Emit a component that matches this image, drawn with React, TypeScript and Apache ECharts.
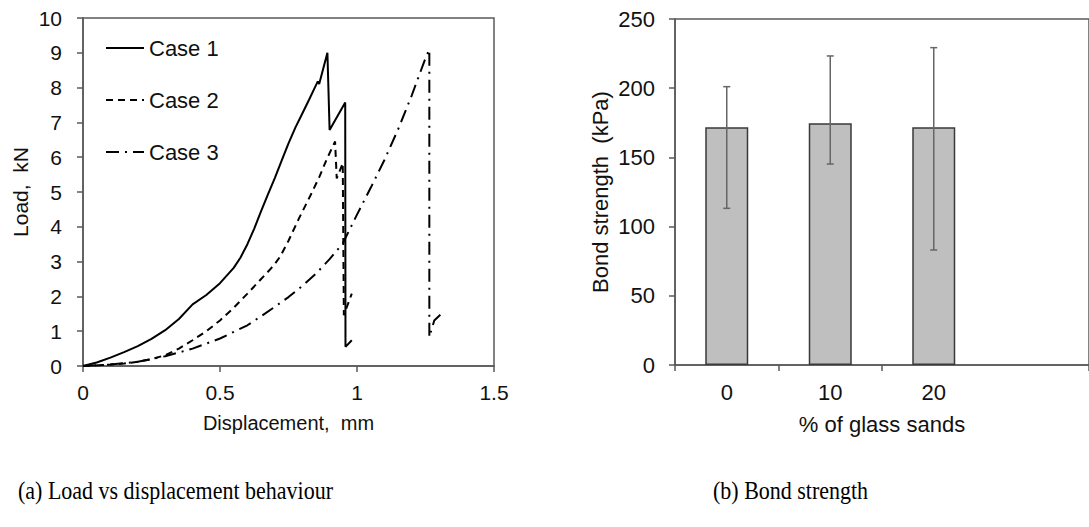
import React, { useEffect, useRef } from "react";
import * as echarts from "echarts";

// ---------- Panel (a): load vs displacement ----------
const case1X = [0, 0.05, 0.1, 0.15, 0.2, 0.25, 0.3, 0.35, 0.4, 0.45, 0.5, 0.55, 0.575, 0.6, 0.625, 0.65, 0.675, 0.7, 0.725, 0.75, 0.775, 0.8, 0.825, 0.846, 0.857, 0.862, 0.892, 0.9, 0.957, 0.958, 0.981];
const case1Y = [0, 0.1, 0.24, 0.4, 0.57, 0.78, 1.03, 1.35, 1.77, 2.04, 2.38, 2.82, 3.12, 3.5, 3.95, 4.45, 4.93, 5.4, 5.9, 6.4, 6.85, 7.25, 7.65, 8.0, 8.18, 8.1, 9.0, 6.78, 7.57, 0.55, 0.74];

const case2X = [0, 0.1, 0.15, 0.2, 0.25, 0.3, 0.35, 0.4, 0.45, 0.5, 0.55, 0.6, 0.65, 0.68, 0.7, 0.72, 0.75, 0.79, 0.83, 0.863, 0.89, 0.92, 0.926, 0.948, 0.952, 0.981];
const case2Y = [0, 0.04, 0.07, 0.12, 0.2, 0.31, 0.5, 0.74, 1.0, 1.31, 1.67, 2.08, 2.5, 2.75, 2.93, 3.15, 3.6, 4.27, 4.9, 5.44, 5.95, 6.45, 5.39, 5.83, 1.46, 2.08];

const case3X = [0, 0.1, 0.2, 0.3, 0.4, 0.5, 0.6, 0.65, 0.7, 0.75, 0.8, 0.85, 0.9, 0.948, 0.96, 1.0, 1.05, 1.1, 1.15, 1.2, 1.252, 1.264, 1.264, 1.282, 1.312];
const case3Y = [0, 0.04, 0.12, 0.28, 0.5, 0.79, 1.17, 1.43, 1.7, 1.98, 2.3, 2.65, 3.07, 3.52, 3.71, 4.35, 5.12, 5.92, 6.8, 7.78, 8.89, 9.09, 0.83, 1.31, 1.53];

const seriesNames = ["Case 1", "Case 2", "Case 3"];

// ---------- Panel (b): bond strength ----------
const glassCategories = ["0", "10", "20", ""];
const bondMean = [171.7, 174.6, 171.7];
const bondLow = [113.2, 145.2, 83.1];
const bondHigh = [201.1, 223.3, 229.3];

const captions = ["(a) Load vs displacement behaviour", "(b) Bond strength"];

const FONT = "'Liberation Sans', Arial, sans-serif";
const SERIF = "'Liberation Serif', 'Times New Roman', serif";
const AXIS_COLOR = "#595959";
const TEXT_COLOR = "#111";

const pairs = (xs: number[], ys: number[]) => xs.map((x, i) => [x, ys[i]]);

export default function App() {
  const ref = useRef<HTMLDivElement>(null);

  useEffect(() => {
    if (!ref.current) return;
    const chart = echarts.init(ref.current, null, { renderer: "svg" });

    const lineStyleBase = { color: "#000", width: 2 };

    const option: any = {
      animation: false,
      backgroundColor: "#fff",
      textStyle: { fontFamily: FONT, color: TEXT_COLOR },
      grid: [
        { left: 83, top: 18, width: 411, height: 348, show: true, borderColor: AXIS_COLOR, borderWidth: 1.5, backgroundColor: "transparent" },
        { left: 675, top: 19, width: 544, height: 346, show: true, borderColor: AXIS_COLOR, borderWidth: 1.5, backgroundColor: "transparent" },
      ],
      legend: {
        data: seriesNames,
        orient: "vertical",
        left: 105,
        top: 37,
        padding: 0,
        itemWidth: 38,
        itemHeight: 22,
        itemGap: 30,
        itemStyle: { color: "rgba(0,0,0,0)", borderColor: "rgba(0,0,0,0)", borderWidth: 0, opacity: 0 },
        textStyle: { fontFamily: FONT, fontSize: 22, color: TEXT_COLOR, lineHeight: 22 },
      },
      xAxis: [
        {
          gridIndex: 0,
          type: "value",
          min: 0,
          max: 1.5,
          interval: 0.5,
          name: "Displacement,  mm",
          nameLocation: "middle",
          nameGap: 47,
          nameTextStyle: { fontFamily: FONT, fontSize: 20, color: TEXT_COLOR },
          axisLine: { show: true, lineStyle: { color: AXIS_COLOR, width: 1.5 } },
          axisTick: { show: true, inside: false, length: 6, lineStyle: { color: AXIS_COLOR, width: 1.5 } },
          axisLabel: { margin: 16, fontSize: 21, color: TEXT_COLOR, fontFamily: FONT },
          splitLine: { show: false },
        },
        {
          gridIndex: 1,
          type: "category",
          data: glassCategories,
          boundaryGap: true,
          name: "% of glass sands",
          nameLocation: "middle",
          nameGap: 48,
          nameTextStyle: { fontFamily: FONT, fontSize: 22, color: TEXT_COLOR },
          axisLine: { show: true, lineStyle: { color: AXIS_COLOR, width: 1.5 } },
          axisTick: { show: true, length: 6, interval: (i: number) => i < 3, lineStyle: { color: AXIS_COLOR, width: 1.5 } },
          axisLabel: { margin: 16, fontSize: 22, color: TEXT_COLOR, fontFamily: FONT },
          splitLine: { show: false },
        },
      ],
      yAxis: [
        {
          gridIndex: 0,
          type: "value",
          min: 0,
          max: 10,
          interval: 1,
          name: "Load,  kN",
          nameLocation: "middle",
          nameRotate: 90,
          nameGap: 52,
          nameTextStyle: { fontFamily: FONT, fontSize: 21, color: TEXT_COLOR },
          axisLine: { show: true, lineStyle: { color: AXIS_COLOR, width: 1.5 } },
          axisTick: { show: true, length: 6, lineStyle: { color: AXIS_COLOR, width: 1.5 } },
          axisLabel: { margin: 21, fontSize: 21, color: TEXT_COLOR, fontFamily: FONT },
          splitLine: { show: false },
        },
        {
          gridIndex: 1,
          type: "value",
          min: 0,
          max: 250,
          interval: 50,
          name: "Bond strength  (kPa)",
          nameLocation: "middle",
          nameRotate: 90,
          nameGap: 64,
          nameTextStyle: { fontFamily: FONT, fontSize: 22, color: TEXT_COLOR },
          axisLine: { show: true, lineStyle: { color: AXIS_COLOR, width: 1.5 } },
          axisTick: { show: true, length: 6, lineStyle: { color: AXIS_COLOR, width: 1.5 } },
          axisLabel: { margin: 20, fontSize: 22, color: TEXT_COLOR, fontFamily: FONT },
          splitLine: { show: false },
        },
      ],
      series: [
        {
          name: seriesNames[0],
          type: "line",
          xAxisIndex: 0,
          yAxisIndex: 0,
          data: pairs(case1X, case1Y),
          showSymbol: false,
          symbol: "none",
          lineStyle: { ...lineStyleBase, type: "solid" },
          itemStyle: { color: "#000" },
        },
        {
          name: seriesNames[1],
          type: "line",
          xAxisIndex: 0,
          yAxisIndex: 0,
          data: pairs(case2X, case2Y),
          showSymbol: false,
          symbol: "none",
          lineStyle: { ...lineStyleBase, type: [7, 5] },
          itemStyle: { color: "#000" },
        },
        {
          name: seriesNames[2],
          type: "line",
          xAxisIndex: 0,
          yAxisIndex: 0,
          data: pairs(case3X, case3Y),
          showSymbol: false,
          symbol: "none",
          lineStyle: { ...lineStyleBase, type: [13, 6, 2, 6] },
          itemStyle: { color: "#000" },
        },
        {
          name: "Bond strength",
          type: "bar",
          xAxisIndex: 1,
          yAxisIndex: 1,
          data: bondMean,
          barWidth: 43,
          itemStyle: { color: "#bfbfbf", borderColor: "#3a3a3a", borderWidth: 1.5 },
        },
        {
          name: "Error",
          type: "custom",
          xAxisIndex: 1,
          yAxisIndex: 1,
          data: bondMean.map((_, i) => [i, bondLow[i], bondHigh[i]]),
          encode: { x: 0, y: [1, 2] },
          z: 5,
          renderItem: (params: any, api: any) => {
            const idx = api.value(0);
            const lo = api.coord([idx, api.value(1)]);
            const hi = api.coord([idx, api.value(2)]);
            const cap = 3.5;
            const style = { stroke: "#666", lineWidth: 1.5 };
            return {
              type: "group",
              children: [
                { type: "line", shape: { x1: hi[0], y1: hi[1], x2: lo[0], y2: lo[1] }, style },
                { type: "line", shape: { x1: hi[0] - cap, y1: hi[1], x2: hi[0] + cap, y2: hi[1] }, style },
                { type: "line", shape: { x1: lo[0] - cap, y1: lo[1], x2: lo[0] + cap, y2: lo[1] }, style },
              ],
            };
          },
        },
      ],
      graphic: [
        {
          type: "text",
          x: 18,
          y: 478,
          scaleY: 1.15,
          style: { text: captions[0], font: `22px ${SERIF}`, fill: "#000" },
        },
        {
          type: "text",
          x: 713,
          y: 478,
          scaleY: 1.15,
          style: { text: captions[1], font: `22px ${SERIF}`, fill: "#000" },
        },
      ],
    };

    chart.setOption(option);
    return () => chart.dispose();
  }, []);

  return (
    <div
      ref={ref}
      style={{ position: "absolute", left: 0, top: 0, width: 1089, height: 527, background: "#fff" }}
    />
  );
}
